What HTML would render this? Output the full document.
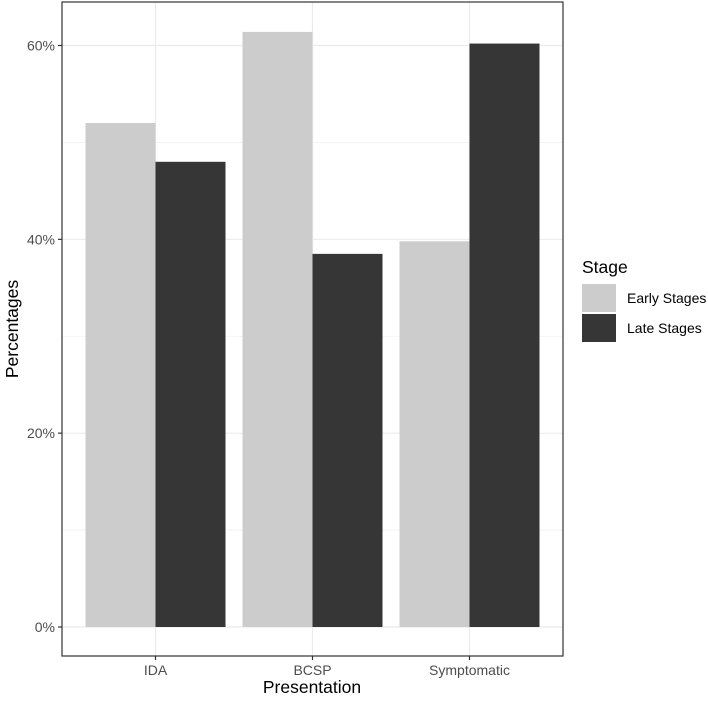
<!DOCTYPE html>
<html><head><meta charset="utf-8"><style>
body{margin:0;background:#fff}
text{font-family:"Liberation Sans",sans-serif}
</style></head><body>
<svg id="chart" width="708" height="701"></svg>
<script>
const categories=["IDA","BCSP","Symptomatic"];
const earlyValues=[52.0,61.4,39.8];
const lateValues=[48.0,38.5,60.2];
const yTicks=[0,20,40,60];
const tickLabels=["0%","20%","40%","60%"];
const svg=document.getElementById('chart');
const NS="http://www.w3.org/2000/svg";
const L=62,R=563,T=2,B=656;
const y0=627,ppu=(627-45.5)/60;
const y=v=>y0-v*ppu;
const xc=i=>155.5+i*157;
const bw=70;
function el(tag,attrs,parent){const e=document.createElementNS(NS,tag);for(const k in attrs)e.setAttribute(k,attrs[k]);(parent||svg).appendChild(e);return e;}
for(let i=0;i<yTicks.length-1;i++){const g=el('line',{x1:L,x2:R,y1:y((yTicks[i]+yTicks[i+1])/2),y2:y((yTicks[i]+yTicks[i+1])/2),stroke:'#f2f2f2','stroke-width':0.8});

}
yTicks.forEach((t,i)=>{const g=el('line',{x1:L,x2:R,y1:y(t),y2:y(t),stroke:'#ebebeb','stroke-width':1.2});


const tk=el('line',{x1:L-4,x2:L,y1:y(t),y2:y(t),stroke:'#333','stroke-width':1.2});


const tx=el('text',{x:L-7,y:y(t)+5,'text-anchor':'end','font-size':14,fill:'#4d4d4d'});tx.textContent=tickLabels[i];

});
categories.forEach((c,i)=>{const g=el('line',{x1:xc(i),x2:xc(i),y1:T,y2:B,stroke:'#ebebeb','stroke-width':1.2});

});
categories.forEach((c,i)=>{
const b1=el('rect',{x:xc(i)-bw,y:y(earlyValues[i]),width:bw,height:y0-y(earlyValues[i]),fill:'#cccccc'});


const b2=el('rect',{x:xc(i),y:y(lateValues[i]),width:bw,height:y0-y(lateValues[i]),fill:'#363636'});


const tk=el('line',{x1:xc(i),x2:xc(i),y1:B,y2:B+4,stroke:'#333','stroke-width':1.2});


const tx=el('text',{x:xc(i),y:B+19,'text-anchor':'middle','font-size':14,fill:'#4d4d4d'});tx.textContent=c;


});
const panel=el('rect',{x:L,y:T,width:R-L,height:B-T,fill:'none',stroke:'#333','stroke-width':1.2});


</script>
<svg width="708" height="701" style="position:absolute;left:0;top:0">
<text x="312" y="693" text-anchor="middle" font-size="17.5" fill="#000">Presentation</text>
<text x="0" y="0" transform="translate(18,329) rotate(-90)" text-anchor="middle" font-size="17.5" fill="#000">Percentages</text>
<text x="582" y="273" font-size="17.5" fill="#000">Stage</text>
<rect x="582" y="284" width="34" height="28" fill="#cccccc"/>
<text x="627" y="303" font-size="14" fill="#000">Early Stages</text>
<rect x="582" y="314" width="34" height="28" fill="#363636"/>
<text x="627" y="333" font-size="14" fill="#000">Late Stages</text>
</svg>
</body></html>
